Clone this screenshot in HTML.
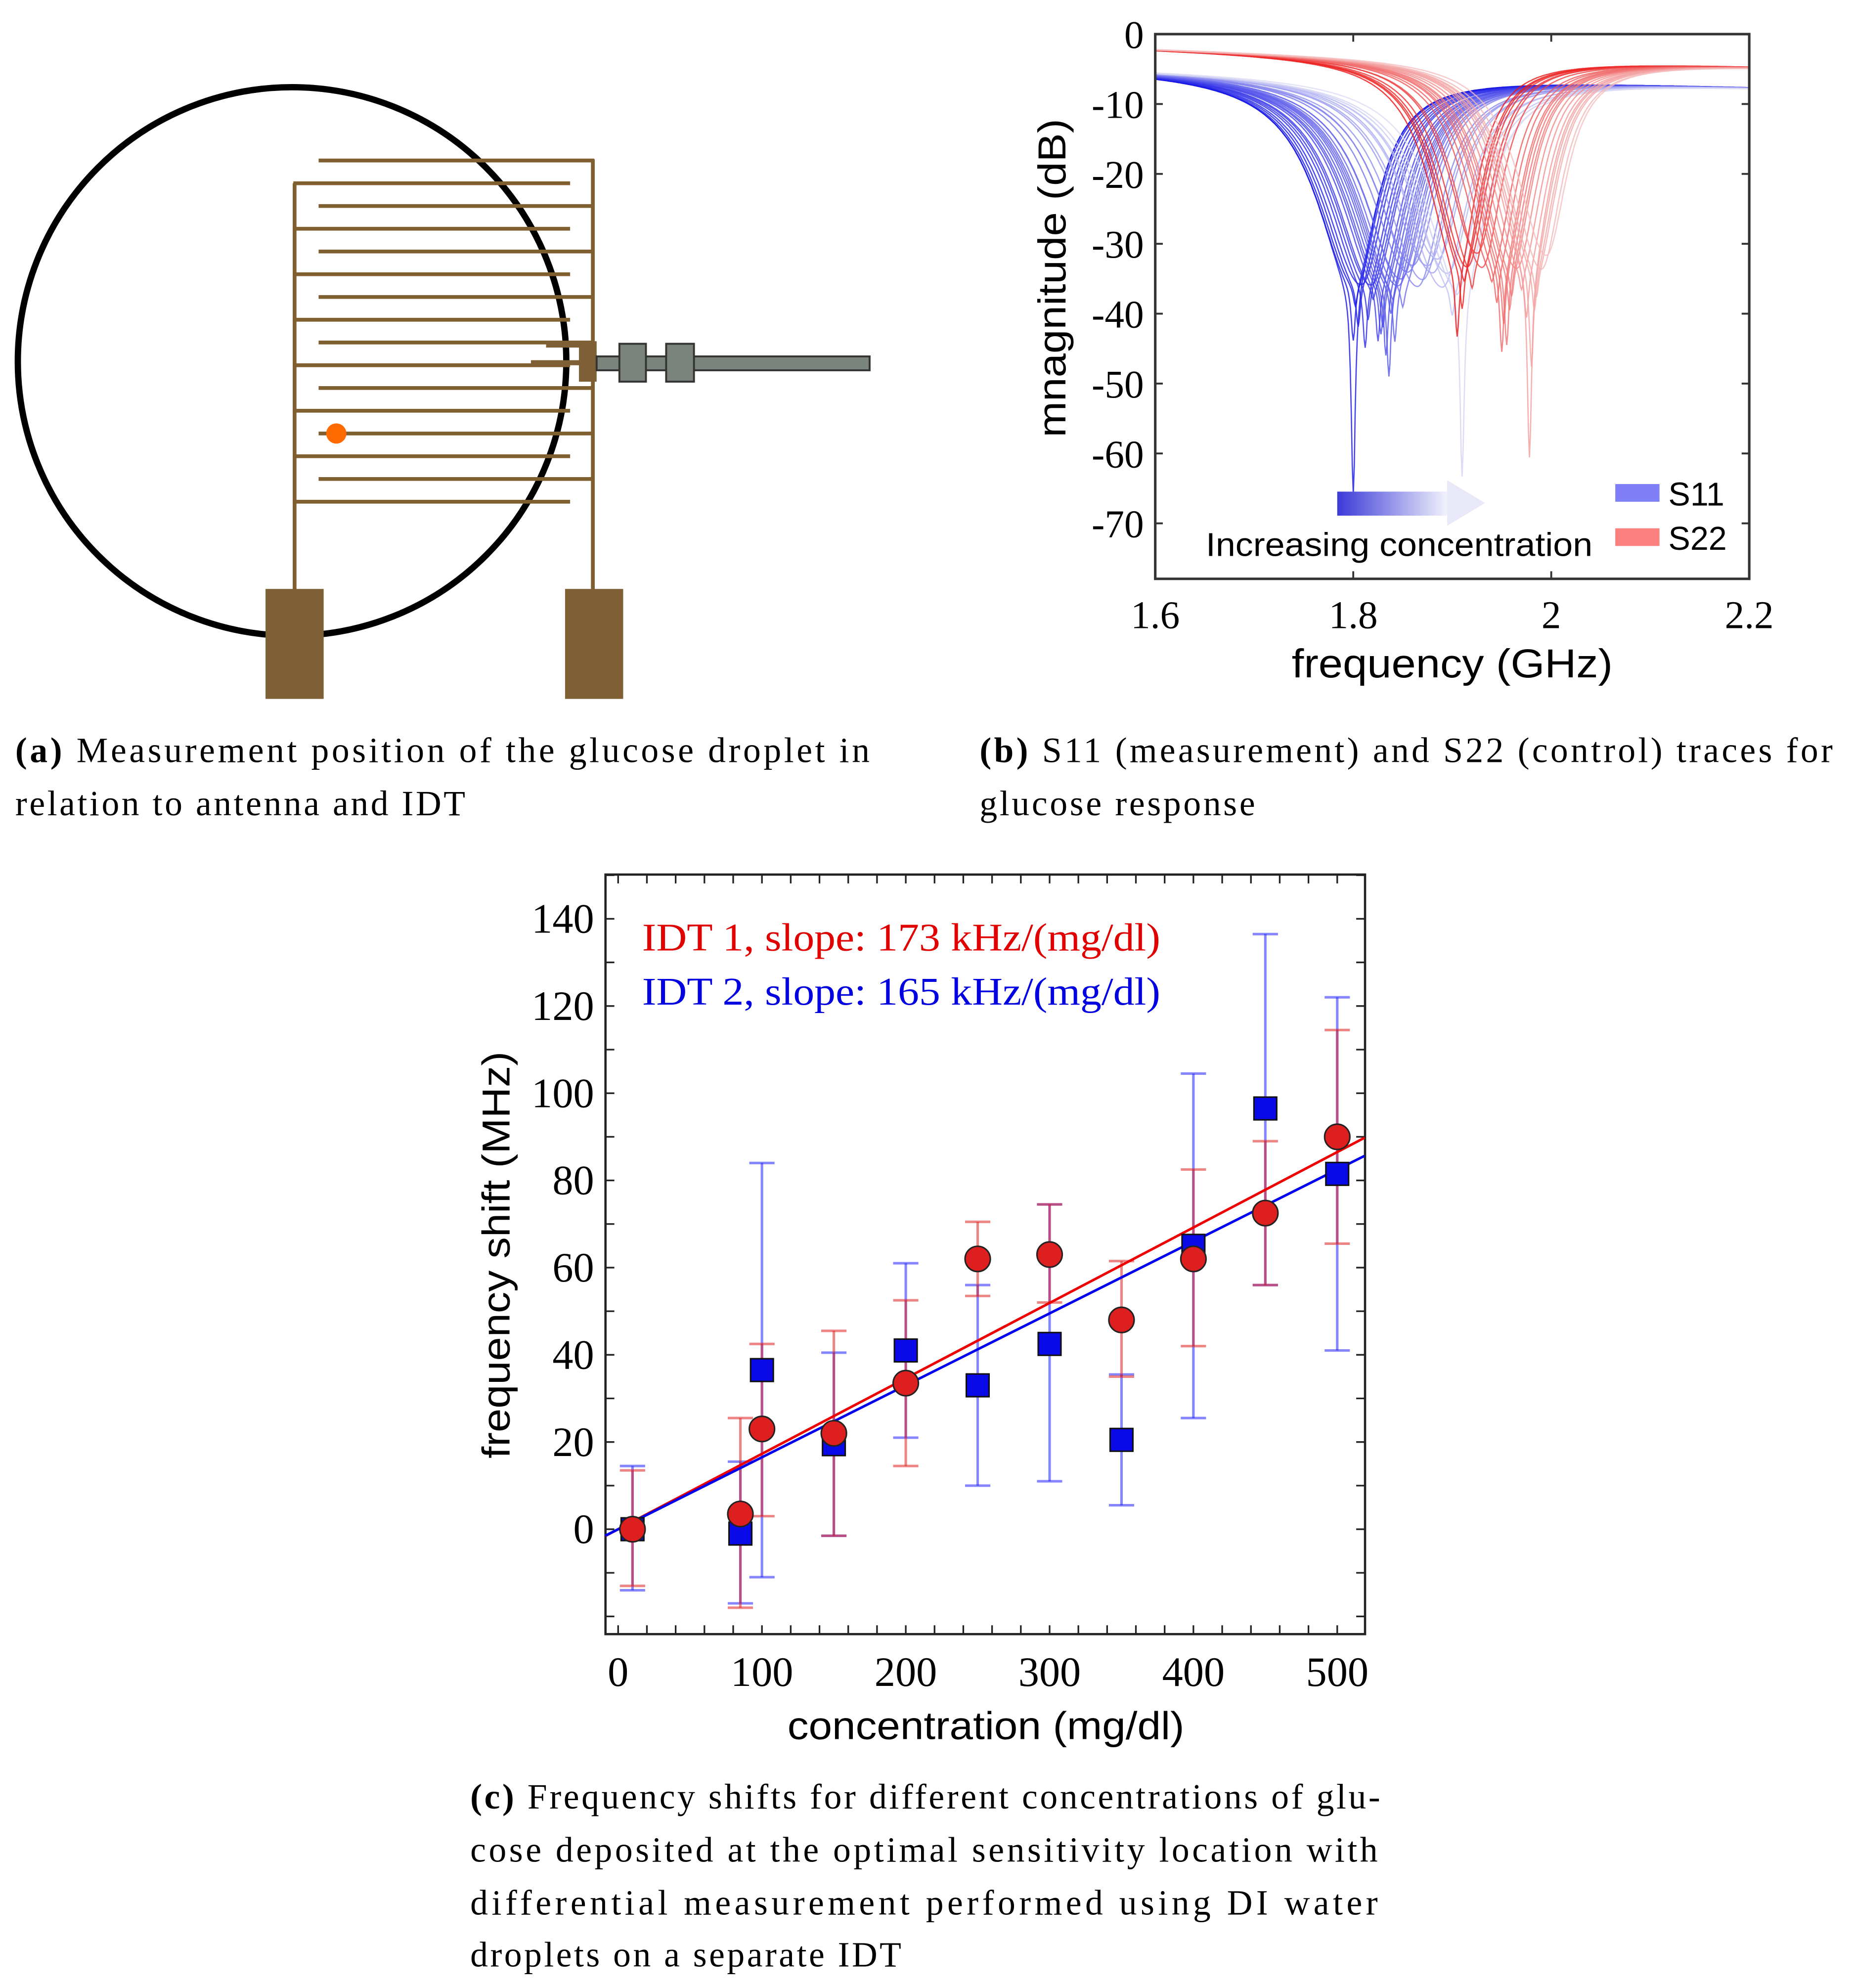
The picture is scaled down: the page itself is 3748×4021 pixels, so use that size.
<!DOCTYPE html>
<html><head><meta charset="utf-8"><style>
html,body{margin:0;padding:0;background:#fff;}
svg{display:block;}
.serif{font-family:"Liberation Serif",serif;}
.sans{font-family:"Liberation Sans",sans-serif;}
</style></head><body>
<svg id="root" width="3748" height="4021" viewBox="0 0 1466 1573" xmlns="http://www.w3.org/2000/svg">
<defs>
<linearGradient id="arrowGrad" x1="0" x2="1" y1="0" y2="0">
<stop offset="0" stop-color="#3a3ad8"/><stop offset="1" stop-color="#f4f4fc"/>
</linearGradient>
</defs>
<!-- Panel A -->
<g>
<circle cx="231" cy="286" r="217" fill="none" stroke="#000" stroke-width="5"/>
<g id="idt" stroke="#7f5f30" stroke-width="3"></g>
<rect x="210" y="466" width="46" height="87" fill="#7f5f35"/>
<rect x="447" y="466" width="46" height="87" fill="#7f5f35"/>
<rect x="432" y="270" width="38" height="5" fill="#7f5f35"/>
<rect x="420" y="285" width="40" height="4" fill="#7f5f35"/>
<rect x="458" y="270" width="14" height="32" fill="#7f5f35"/>
<rect x="472" y="282" width="216" height="11" fill="#7a847c" stroke="#333" stroke-width="1.5"/>
<rect x="490" y="272" width="21" height="30" fill="#7a847c" stroke="#333" stroke-width="1.5"/>
<rect x="527" y="272" width="22" height="30" fill="#7a847c" stroke="#333" stroke-width="1.5"/>
<circle cx="266" cy="343" r="8" fill="#ff6a00"/>
</g>
<text class="serif" x="12" y="603" font-size="28" textLength="676" lengthAdjust="spacing"><tspan font-weight="bold">(a)</tspan> Measurement position of the glucose droplet in</text>
<text class="serif" x="12" y="645" font-size="28" textLength="356" lengthAdjust="spacing">relation to antenna and IDT</text>

<!-- Panel B -->
<g id="chartB">
<g id="bTraces"></g>
<rect x="914" y="27" width="470" height="431" fill="none" stroke="#333" stroke-width="2"/>
<g id="bTicks"></g>
<rect x="1058" y="389" width="88" height="19" fill="url(#arrowGrad)"/>
<polygon points="1145,380 1175,398 1145,416" fill="#e8e8f8"/>
<text class="sans" x="954" y="440" font-size="26" textLength="306" lengthAdjust="spacingAndGlyphs">Increasing concentration</text>
<rect x="1278" y="383" width="35" height="14" fill="#7f7ff8"/>
<text class="sans" x="1320" y="400" font-size="26">S11</text>
<rect x="1278" y="418" width="35" height="14" fill="#fb8080"/>
<text class="sans" x="1320" y="435" font-size="26">S22</text>
<text class="sans" x="1149" y="536" font-size="32" text-anchor="middle" textLength="254" lengthAdjust="spacingAndGlyphs">frequency (GHz)</text>
<text class="sans" transform="translate(843,220) rotate(-90)" font-size="31" text-anchor="middle" textLength="252" lengthAdjust="spacingAndGlyphs">mnagnitude (dB)</text>
</g>
<text class="serif" x="775" y="603" font-size="28" textLength="675" lengthAdjust="spacing"><tspan font-weight="bold">(b)</tspan> S11 (measurement) and S22 (control) traces for</text>
<text class="serif" x="775" y="645" font-size="28" textLength="218" lengthAdjust="spacing">glucose response</text>

<!-- Panel C -->
<g id="chartC">
<rect x="479" y="692" width="601" height="601" fill="none" stroke="#222" stroke-width="1.8"/>
<g id="cTicks"></g>
<g id="cMarks"></g>
<text class="serif" x="508" y="752" font-size="31" fill="#e00000" textLength="410" lengthAdjust="spacingAndGlyphs">IDT 1, slope: 173 kHz/(mg/dl)</text>
<text class="serif" x="508" y="795" font-size="31" fill="#0000e0" textLength="410" lengthAdjust="spacingAndGlyphs">IDT 2, slope: 165 kHz/(mg/dl)</text>
<text class="sans" x="780" y="1376" font-size="31" text-anchor="middle" textLength="314" lengthAdjust="spacingAndGlyphs">concentration (mg/dl)</text>
<text class="sans" transform="translate(403,993) rotate(-90)" font-size="31" text-anchor="middle" textLength="322" lengthAdjust="spacingAndGlyphs">frequency shift (MHz)</text>
</g>
<text class="serif" x="372" y="1431" font-size="28" textLength="720" lengthAdjust="spacing"><tspan font-weight="bold">(c)</tspan> Frequency shifts for different concentrations of glu-</text>
<text class="serif" x="372" y="1473" font-size="28" textLength="718" lengthAdjust="spacing">cose deposited at the optimal sensitivity location with</text>
<text class="serif" x="372" y="1515" font-size="28" textLength="718" lengthAdjust="spacing">differential measurement performed using DI water</text>
<text class="serif" x="372" y="1556" font-size="28" textLength="341" lengthAdjust="spacing">droplets on a separate IDT</text>
</svg>
<script>
const NS="http://www.w3.org/2000/svg";
function mk(tag,attrs,parent){const e=document.createElementNS(NS,tag);for(const k in attrs)e.setAttribute(k,attrs[k]);parent.appendChild(e);return e;}

// ---- Panel A fingers ----
const idt=document.getElementById('idt');
let e=mk('line',{x1:233,y1:145,x2:233,y2:468},idt);


e=mk('line',{x1:469,y1:126,x2:469,y2:468},idt);


for(let i=0;i<16;i++){
  const y=127+i*18;
  const fromRight=(i%2===0);
  e=mk('line',fromRight?{x1:252,y1:y,x2:470,y2:y}:{x1:232,y1:y,x2:451,y2:y},idt);
  
  
}

// ---- Panel B data ----
const s11Centers=[1.800,1.800,1.802,1.805,1.808,1.812,1.815,1.818,1.820,1.825,1.828,1.830,1.833,1.836,1.838,1.840,1.842,1.845,1.848,1.850,1.855,1.860,1.865,1.870,1.875,1.880,1.885,1.890,1.895,1.900,1.905,1.910,1.915];
const s11Depths=[60,38,33,36,30,39,35,30,32,38,37,36,40,43,34,32,38,30,29,33,28,27,30,29,27,28,26,30,28,34,31,57,27];
const s22Centers=[1.905,1.910,1.912,1.915,1.920,1.925,1.930,1.940,1.945,1.950,1.952,1.955,1.958,1.960,1.965,1.970,1.975,1.978,1.980,1.983,1.985,1.990,1.995];
const s22Depths=[40,36,32,30,33,28,30,32,35,42,38,41,36,34,30,33,37,57,44,36,34,30,28];
const bXTicks=[1.6,1.8,2,2.2];
const bXTickLabels=["1.6","1.8","2","2.2"];
const bYTicks=[0,-10,-20,-30,-40,-50,-60,-70];
const bYTickLabels=["0","-10","-20","-30","-40","-50","-60","-70"];

function bx(f){return 914+(f-1.6)/0.6*470;}
function by(d){return 27-d*5.53;}
function trace(f0,depth,b0,b1,w,leftW){
  const pts=[];
  const broad=Math.min(depth,30), spike=Math.max(depth-broad,0);
  for(let i=0;i<=600;i++){
    const f=1.6+i*0.001;
    const base=b0+(b1-b0)*(f-1.6)/0.6;
    const ww=f<f0?leftW:w;
    const d=base-broad/(1+Math.pow((f-f0)/ww,2))-spike/(1+Math.pow((f-f0)/0.0025,2));
    pts.push(bx(f).toFixed(1)+","+by(d).toFixed(1));
  }
  return pts.join(" ");
}
const bT=document.getElementById('bTraces');
s11Centers.forEach((c,i)=>{
  const t=(c-1.8)/0.115;
  const r=Math.round(20+t*200),g=Math.round(20+t*200),b=Math.round(230+t*15);
  const p=mk('polyline',{points:trace(c,s11Depths[i],-5,-7.5,0.03,0.045),fill:"none",stroke:`rgb(${r},${g},${b})`,"stroke-width":1,"stroke-opacity":0.8},bT);
  
  
});
s22Centers.forEach((c,i)=>{
  const t=(c-1.905)/0.09;
  const r=Math.round(235+t*10),g=Math.round(20+t*170),b=Math.round(20+t*170);
  const p=mk('polyline',{points:trace(c,s22Depths[i],-2,-4.5,0.025,0.035),fill:"none",stroke:`rgb(${r},${g},${b})`,"stroke-width":1,"stroke-opacity":0.8},bT);
  
  
});
const bTk=document.getElementById('bTicks');
bXTicks.forEach((v,i)=>{
  const x=bx(v);
  mk('line',{x1:x,y1:458,x2:x,y2:452,stroke:"#333","stroke-width":1.5},bTk);
  mk('line',{x1:x,y1:27,x2:x,y2:33,stroke:"#333","stroke-width":1.5},bTk);
  const t=mk('text',{x:x,y:497,"font-size":31,"text-anchor":"middle",class:"serif"},bTk);
  t.textContent=bXTickLabels[i];
  
  
});
bYTicks.forEach((v,i)=>{
  const y=by(v);
  mk('line',{x1:914,y1:y,x2:920,y2:y,stroke:"#333","stroke-width":1.5},bTk);
  mk('line',{x1:1384,y1:y,x2:1378,y2:y,stroke:"#333","stroke-width":1.5},bTk);
  const t=mk('text',{x:905,y:y+11,"font-size":31,"text-anchor":"end",class:"serif"},bTk);
  t.textContent=bYTickLabels[i];
  
  
});

// ---- Panel C data ----
const conc=[10,85,100,150,200,250,300,350,400,450,500];
const idt1Vals=[0,3.5,23,22,33.5,62,63,48,62,72.5,90];
const idt1Hi=[13.5,25.5,42.5,45.5,52.5,70.5,74.5,61.5,82.5,89,114.5];
const idt1Lo=[-13,-18,3,-1.5,14.5,53.5,52,35,42,56,65.5];
const idt2Vals=[0,-1,36.5,19.5,41,33,42.5,20.5,65,96.5,81.5];
const idt2Hi=[14.5,15.5,84,40.5,61,56,74.5,35.5,104.5,136.5,122];
const idt2Lo=[-14,-17,-11,-1.5,21,10,11,5.5,25.5,56,41];
const slopes=[0.173,0.165];
const cXTicks=[0,100,200,300,400,500];
const cYTicks=[0,20,40,60,80,100,120,140];

function cx(v){return 489+v*1.138;}
function cy(v){return 1210-v*3.45;}
const cT=document.getElementById('cTicks');
for(let v=0;v<=510;v+=20){
  const x=cx(v);
  mk('line',{x1:x,y1:1293,x2:x,y2:1286,stroke:"#222","stroke-width":1.3},cT);
  mk('line',{x1:x,y1:692,x2:x,y2:699,stroke:"#222","stroke-width":1.3},cT);
}
for(let v=-20;v<=150;v+=10){
  const y=cy(v);
  mk('line',{x1:479,y1:y,x2:486,y2:y,stroke:"#222","stroke-width":1.3},cT);
  mk('line',{x1:1080,y1:y,x2:1073,y2:y,stroke:"#222","stroke-width":1.3},cT);
}
cXTicks.forEach(v=>{
  const t=mk('text',{x:cx(v),y:1334,"font-size":33,"text-anchor":"middle",class:"serif"},cT);
  t.textContent=String(v);
  
  
});
cYTicks.forEach(v=>{
  const t=mk('text',{x:470,y:cy(v)+11,"font-size":33,"text-anchor":"end",class:"serif"},cT);
  t.textContent=String(v);
  
  
});
const cM=document.getElementById('cMarks');
function errbars(vals,hi,lo,color,name){
  conc.forEach((c,i)=>{
    const x=cx(c);
    const g=mk('g',{stroke:color,"stroke-width":2,"stroke-opacity":0.55},cM);
    
    
    mk('line',{x1:x,y1:cy(hi[i]),x2:x,y2:cy(lo[i])},g);
    mk('line',{x1:x-10,y1:cy(hi[i]),x2:x+10,y2:cy(hi[i])},g);
    mk('line',{x1:x-10,y1:cy(lo[i]),x2:x+10,y2:cy(lo[i])},g);
  });
}
errbars(idt2Vals,idt2Hi,idt2Lo,"#2020ff","idt2-error-bar");
errbars(idt1Vals,idt1Hi,idt1Lo,"#e02020","idt1-error-bar");
const xmin=-9,xmax=519;
let fl=mk('line',{x1:cx(xmin),y1:cy(xmin*slopes[0]),x2:cx(xmax),y2:cy(xmax*slopes[0]),stroke:"#ee0000","stroke-width":2},cM);


fl=mk('line',{x1:cx(xmin),y1:cy(xmin*slopes[1]),x2:cx(xmax),y2:cy(xmax*slopes[1]),stroke:"#0000ee","stroke-width":2},cM);


conc.forEach((c,i)=>{
  const s=mk('rect',{x:cx(c)-9,y:cy(idt2Vals[i])-9,width:18,height:18,fill:"#0a0ae8",stroke:"#111","stroke-width":1.2},cM);
  
  
});
conc.forEach((c,i)=>{
  const p=mk('circle',{cx:cx(c),cy:cy(idt1Vals[i]),r:10,fill:"#dd1f1f",stroke:"#222","stroke-width":1.2},cM);
  
  
});
</script>
</body></html>
